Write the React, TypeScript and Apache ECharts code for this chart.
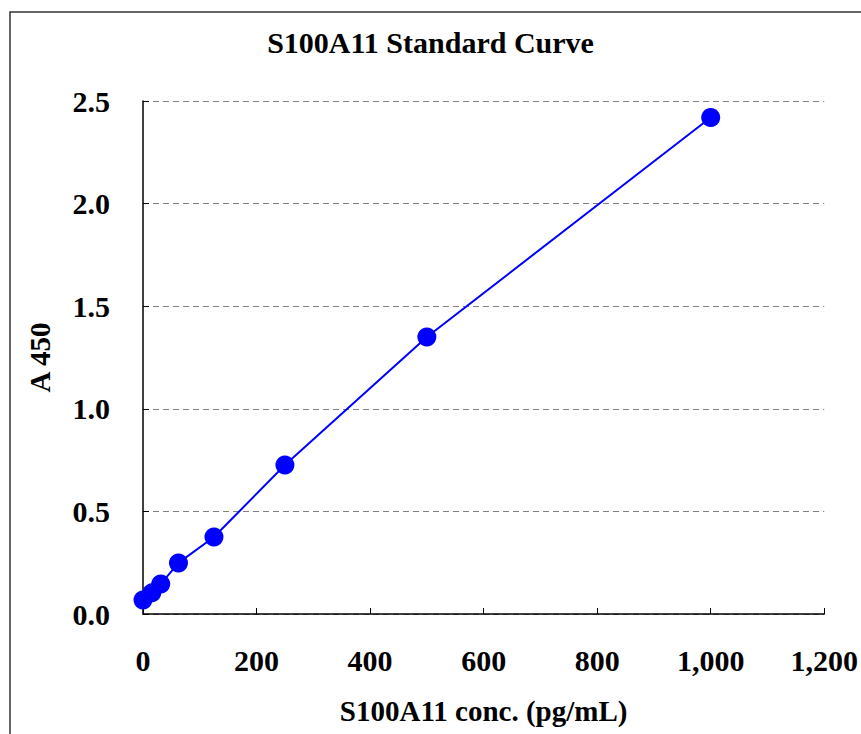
import React, { useEffect, useRef } from "react";
import * as echarts from "echarts";

const concentrations = [0, 15.6, 31.25, 62.5, 125, 250, 500, 1000];
const absorbance = [0.068, 0.103, 0.146, 0.249, 0.375, 0.726, 1.35, 2.42];
const titleText = "S100A11 Standard Curve";
const xName = "S100A11 conc. (pg/mL)";
const yName = "A 450";

const FONT = "'Liberation Serif', 'Times New Roman', serif";

export default function App() {
  const ref = useRef<HTMLDivElement>(null);
  useEffect(() => {
    if (!ref.current) return;
    const chart = echarts.init(ref.current, null, { renderer: "svg" });
    chart.setOption({
      animation: false,
      backgroundColor: "#ffffff",
      title: {
        text: titleText,
        left: "center",
        top: 22,
        textStyle: { fontFamily: FONT, fontWeight: "bold", fontSize: 30, color: "#000" },
      },
      graphic: [
        {
          type: "rect",
          shape: { x: 10, y: 12, width: 900, height: 800 },
          style: { fill: "none", stroke: "#333", lineWidth: 1.5 },
          silent: true,
        },
      ],
      grid: { left: 143, right: 31, top: 101, bottom: 120, containLabel: false },
      xAxis: {
        type: "value",
        min: 0,
        max: 1200,
        interval: 200,
        name: xName,
        nameLocation: "middle",
        nameGap: 82,
        nameTextStyle: { fontFamily: FONT, fontWeight: "bold", fontSize: 29, color: "#000" },
        axisLine: { show: true, lineStyle: { color: "#000", width: 1.5 } },
        axisTick: { show: true, inside: true, length: 6, lineStyle: { color: "#000", width: 1 } },
        axisLabel: {
          margin: 31,
          fontFamily: FONT,
          fontWeight: "bold",
          fontSize: 30,
          color: "#000",
          formatter: (v: number) => v.toLocaleString("en-US"),
        },
        splitLine: { show: false },
      },
      yAxis: {
        type: "value",
        min: 0,
        max: 2.5,
        interval: 0.5,
        name: yName,
        nameLocation: "middle",
        nameGap: 89,
        nameTextStyle: { fontFamily: FONT, fontWeight: "bold", fontSize: 29, color: "#000" },
        axisLine: { show: true, lineStyle: { color: "#000", width: 1.5 } },
        axisTick: { show: true, inside: true, length: 6, lineStyle: { color: "#000", width: 1 } },
        axisLabel: {
          margin: 33,
          fontFamily: FONT,
          fontWeight: "bold",
          fontSize: 30,
          color: "#000",
          formatter: (v: number) => v.toFixed(1),
        },
        splitLine: { show: true, lineStyle: { color: "#808080", width: 1, type: [6, 4] } },
      },
      series: [
        {
          type: "line",
          data: concentrations.map((c, i) => [c, absorbance[i]]),
          symbol: "circle",
          symbolSize: 19,
          showAllSymbol: true,
          lineStyle: { color: "#0000ff", width: 2 },
          itemStyle: { color: "#0000ff" },
          clip: false,
          z: 5,
        },
      ],
    });
    return () => chart.dispose();
  }, []);
  return <div ref={ref} style={{ position: "fixed", left: 0, top: 0, width: 861, height: 734 }} />;
}
